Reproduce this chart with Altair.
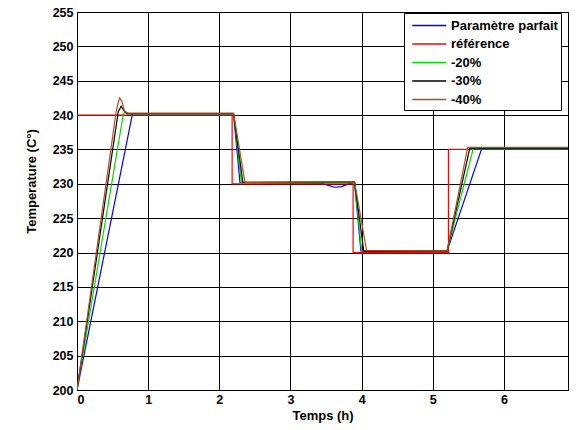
import altair as alt
import pandas as pd

series_names = ["Paramètre parfait", "référence", "-20%", "-30%", "-40%"]
series_colors = ["#0000ff", "#ff0000", "#00dd00", "#000000", "#b0501e"]

# Paramètre parfait
t_blue = [0, 0.78, 2.2, 2.29, 3.42, 3.52, 3.62, 3.72, 3.82, 3.9, 3.99, 5.2, 5.69, 6.9]
y_blue = [200, 240.2, 240.2, 230.2, 230.1, 229.8, 229.5, 229.6, 230.0, 230.2, 220.2, 220.2, 235.2, 235.2]

# référence
t_ref = [0, 2.18, 2.18, 3.88, 3.88, 5.22, 5.22, 6.9]
y_ref = [240, 240, 230, 230, 220, 220, 235, 235]

# -20%
t_g = [0, 0.65, 0.68, 0.71, 2.2, 2.31, 3.9, 4.0, 5.2, 5.57, 6.9]
y_g = [200, 240.1, 240.5, 240.2, 240.2, 230.2, 230.2, 220.2, 220.2, 235.2, 235.2]

# -30%
t_k = [0, 0.58, 0.62, 0.66, 0.7, 2.2, 2.33, 3.9, 4.03, 5.2, 5.52, 6.9]
y_k = [200, 240.5, 241.3, 240.6, 240.2, 240.2, 230.2, 230.3, 220.2, 220.2, 235.2, 235.2]

# -40%
t_b = [0, 0.55, 0.58, 0.6, 0.63, 0.67, 0.72, 2.2, 2.36, 3.9, 4.07, 5.2, 5.49, 6.9]
y_b = [200, 240.5, 241.9, 242.5, 242.0, 240.5, 240.3, 240.3, 230.2, 230.3, 220.3, 220.2, 235.3, 235.3]

xs = [t_blue, t_ref, t_g, t_k, t_b]
ys = [y_blue, y_ref, y_g, y_k, y_b]

rows = []
for s, (tt, yy) in enumerate(zip(xs, ys)):
    for i, (a, b) in enumerate(zip(tt, yy)):
        rows.append({"t": a, "T": b, "serie": series_names[s], "k": s, "i": i})
df = pd.DataFrame(rows)

x_ticks = [0, 1, 2, 3, 4, 5, 6]
y_ticks = list(range(200, 256, 5))

chart = alt.Chart(df).mark_line(strokeWidth=1.2, clip=True).encode(
    x=alt.X("t:Q", scale=alt.Scale(domain=[0, 6.9], nice=False, zero=False),
            axis=alt.Axis(values=x_ticks, title="Temps (h)", format="d")),
    y=alt.Y("T:Q", scale=alt.Scale(domain=[200, 255], nice=False, zero=False),
            axis=alt.Axis(values=y_ticks, title="Temperature (C°)", format="d",
                          titleX=-46, titleY=169, titleBaseline="middle", titleAlign="center")),
    color=alt.Color("serie:N", scale=alt.Scale(domain=series_names, range=series_colors),
                    sort=series_names,
                    legend=alt.Legend(title=None, orient="none", legendX=327, legendY=1,
                                      strokeColor="black", fillColor="white", padding=3,
                                      symbolType="M-0.5,0H3.5", symbolSize=289,
                                      symbolStrokeWidth=1.5, labelOffset=25,
                                      labelFont="Liberation Sans", labelFontWeight="bold",
                                      labelFontSize=13, labelColor="black", rowPadding=1.5)),
    detail="k:N",
    order="i:Q",
).properties(
    width=491, height=378,
    padding={"left": 77, "top": 12, "right": 10, "bottom": 40},
    autosize=alt.AutoSizeParams(type="none"),
).configure_view(
    stroke="black", strokeWidth=1
).configure_axis(
    domainColor="black", gridColor="black", gridOpacity=1, gridWidth=1,
    ticks=False, labelFont="Liberation Sans", labelFontWeight="bold", labelFontSize=12.5,
    labelColor="black", titleFont="Liberation Sans", titleFontWeight="bold",
    titleFontSize=13, titleColor="black", labelPadding=4, titlePadding=4
).configure_axisX(labelPadding=3)

chart.save("out.html", embed_options={"renderer": "svg", "actions": False})
